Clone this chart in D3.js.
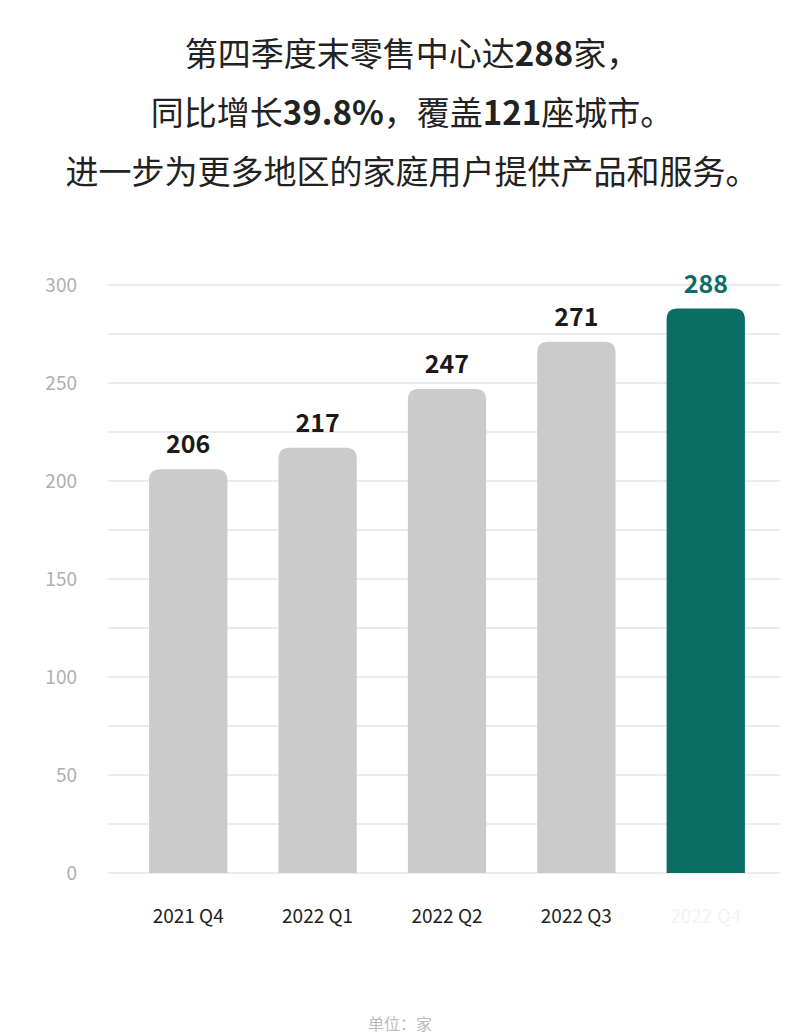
<!DOCTYPE html>
<html>
<head>
<meta charset="utf-8">
<style>
body {
  margin: 0;
  background: #fff;
}
svg {
  display: block;
  font-family: "Noto Sans CJK SC", "Noto Sans", sans-serif;
}
.title {
  fill: #222;
  font-size: 33px;
}
.title .num {
  font-weight: 700;
}
.grid line {
  stroke: #e6e6e6;
  stroke-width: 1.5;
}
.yLabel {
  fill: #b0b0b0;
  font-size: 19px;
}
.xLabel {
  font-size: 19px;
}
.valueLabel {
  font-size: 25px;
  font-weight: 700;
}
.unit {
  fill: #bbb;
  font-size: 16px;
}
</style>
</head>
<body>
<svg width="800" height="1035"></svg>
<script src="https://d3js.org/d3.v7.min.js"></script>
<script>

var quarters = ["2021 Q4", "2022 Q1", "2022 Q2", "2022 Q3", "2022 Q4"],
    centers = [206, 217, 247, 271, 288],
    yTicks = [0, 50, 100, 150, 200, 250, 300],
    gridTicks = d3.range(0, 301, 25);

// title lines, split into plain / bold parts
var titleLines = [
  [["第四季度末零售中心达", false], ["288", true], ["家，", false]],
  [["同比增长", false], ["39.8%", true], ["，覆盖", false], ["121", true], ["座城市。", false]],
  [["进一步为更多地区的家庭用户提供产品和服务。", false]]
];

var svg = d3.select("svg"),
    gray = "#cbcbcb",
    teal = "#0b6e66";

var x = d3.scaleBand()
  .domain(quarters)
  .range([98, 796])
  .padding(0.395);

var y = d3.scaleLinear()
  .domain([0, 300])
  .range([873, 285]);

// title
titleLines.forEach((parts, i) => {
  let t = svg.append("text")
    .attr("class", "title")
    .attr("x", 412)
    .attr("y", 66 + i * 59)
    .attr("text-anchor", "middle");
  parts.forEach(p => {
    t.append("tspan")
      .attr("class", p[1] ? "num" : null)
      .text(p[0]);
  });
});

// gridlines
svg.append("g")
  .attr("class", "grid")
  .selectAll("line")
  .data(gridTicks)
  .join("line")
  .attr("x1", 108)
  .attr("x2", 780)
  .attr("y1", d => y(d))
  .attr("y2", d => y(d));

// y labels
svg.append("g")
  .selectAll("text")
  .data(yTicks)
  .join("text")
  .attr("class", "yLabel")
  .attr("x", 77)
  .attr("y", d => y(d))
  .attr("dy", "0.35em")
  .attr("text-anchor", "end")
  .text(d => d);

// bars with rounded tops
function barPath(x0, w, top, bottom, r) {
  return "M" + x0 + "," + bottom +
    "V" + (top + r) +
    "Q" + x0 + "," + top + " " + (x0 + r) + "," + top +
    "H" + (x0 + w - r) +
    "Q" + (x0 + w) + "," + top + " " + (x0 + w) + "," + (top + r) +
    "V" + bottom + "Z";
}

var isLast = (d, i) => i === quarters.length - 1;

svg.append("g")
  .selectAll("path")
  .data(centers)
  .join("path")
  .attr("d", (d, i) => barPath(x(quarters[i]), x.bandwidth(), y(d), y(0), 11))
  .attr("fill", (d, i) => isLast(d, i) ? teal : gray);

// value labels
svg.append("g")
  .selectAll("text")
  .data(centers)
  .join("text")
  .attr("class", "valueLabel")
  .attr("x", (d, i) => x(quarters[i]) + x.bandwidth() / 2)
  .attr("y", d => y(d) - 16)
  .attr("text-anchor", "middle")
  .style("fill", (d, i) => isLast(d, i) ? teal : "#1a1a1a")
  .text(d => d);

// x labels (last one is washed out in the original)
svg.append("g")
  .selectAll("text")
  .data(quarters)
  .join("text")
  .attr("class", "xLabel")
  .attr("x", d => x(d) + x.bandwidth() / 2)
  .attr("y", 923)
  .attr("text-anchor", "middle")
  .style("fill", (d, i) => isLast(d, i) ? "#f4f4f4" : "#222")
  .text(d => d);

svg.append("text")
  .attr("class", "unit")
  .attr("x", 400)
  .attr("y", 1030)
  .attr("text-anchor", "middle")
  .text("单位：家");

</script>
</body>
</html>
